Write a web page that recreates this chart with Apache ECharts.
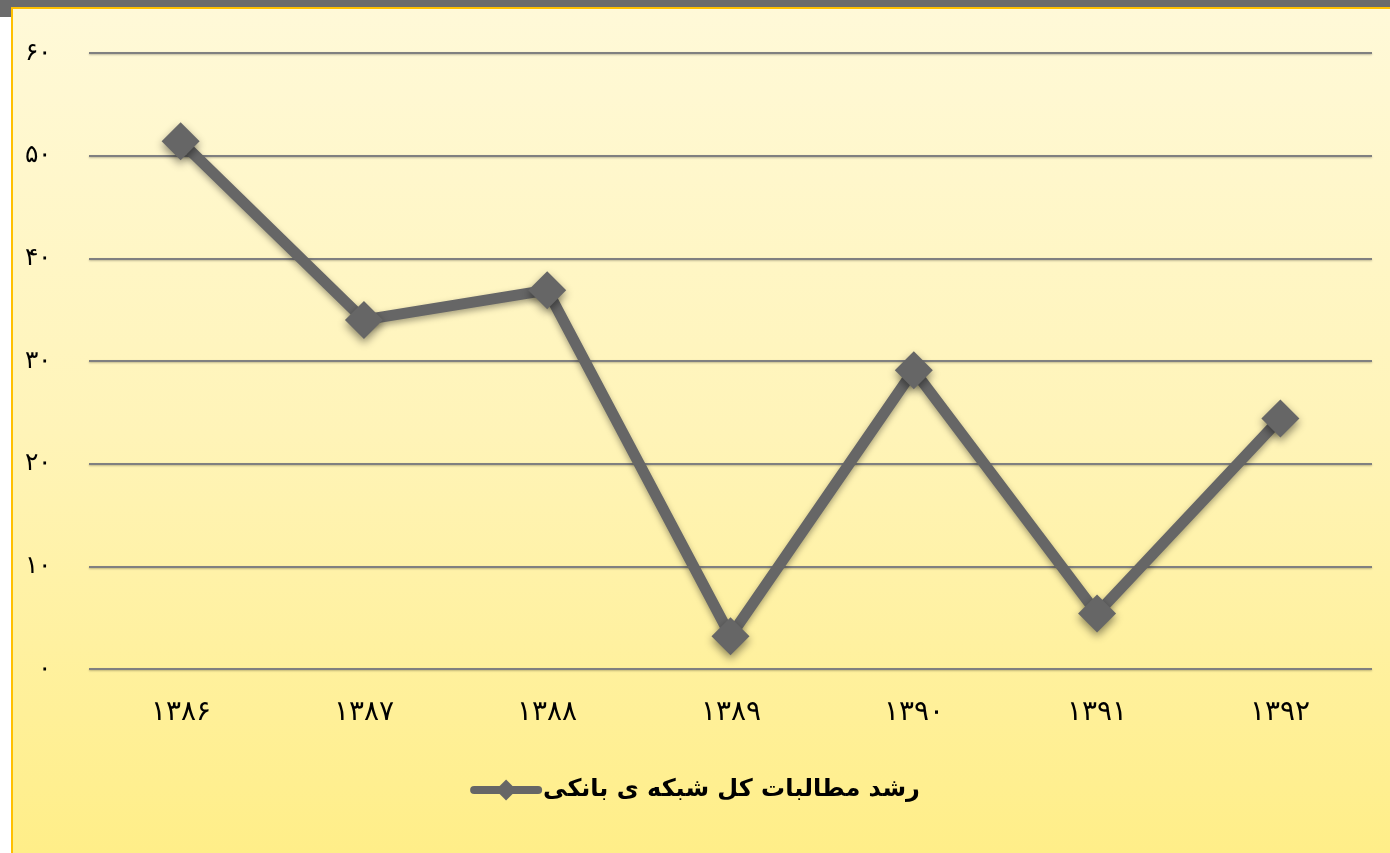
<!DOCTYPE html>
<html>
<head>
<meta charset="utf-8">
<title>رشد مطالبات</title>
<script src="https://cdn.jsdelivr.net/npm/echarts@6/dist/echarts.min.js"></script>
<style>
    html, body { margin: 0; padding: 0; width: 1390px; height: 853px; overflow: hidden; background: #fff; }
    #topbar { position: absolute; left: 0; top: 0; width: 1390px; height: 7px; background: #6b6b6b; }
    #corner { position: absolute; left: 0; top: 0; width: 11px; height: 17px; background: #6b6b6b; }
    #frame {
        position: absolute; left: 11px; top: 7px; width: 1379px; height: 846px;
        border-top: 2px solid #ffc000; border-left: 2px solid #ffc000;
        background: linear-gradient(to bottom, #fff9d8 0%, #fff4b8 50%, #ffee88 100%);
    }
    #main { position: absolute; left: 0; top: 0; width: 1390px; height: 853px; }
</style>
</head>
<body>
<div id="topbar"></div>
<div id="corner"></div>
<div id="frame"></div>
<div id="main"></div>
<script>
// داده ها
var years = ['۱۳۸۶', '۱۳۸۷', '۱۳۸۸', '۱۳۸۹', '۱۳۹۰', '۱۳۹۱', '۱۳۹۲'];
var growth = [51.4, 34.0, 36.9, 3.2, 29.1, 5.4, 24.4];
var seriesName = 'رشد مطالبات کل شبکه ی بانکی';

function fa(n) {
    return String(n).replace(/\d/g, function (d) { return '۰۱۲۳۴۵۶۷۸۹'[d]; });
}

var chart = echarts.init(document.getElementById('main'));
chart.setOption({
    backgroundColor: 'transparent',
    animation: false,
    grid: { left: 89, right: 18, top: 53, bottom: 184, containLabel: false },
    legend: {
        bottom: 46,
        left: 'center',
        itemWidth: 64,
        itemHeight: 26,
        itemGap: 4,
        lineStyle: { width: 8, cap: 'round' },
        textStyle: { fontSize: 24, fontWeight: 'bold', color: '#000', fontFamily: 'DejaVu Sans, sans-serif' },
        data: [seriesName]
    },
    xAxis: {
        type: 'category',
        data: years,
        boundaryGap: true,
        axisLine: { show: false },
        axisTick: { show: false },
        axisLabel: { margin: 30, fontSize: 28, color: '#000', fontFamily: 'DejaVu Serif, serif' }
    },
    yAxis: {
        type: 'value',
        min: 0,
        max: 60,
        interval: 10,
        axisLine: { show: false },
        axisTick: { show: false },
        axisLabel: { margin: 38, fontSize: 25, color: '#000', fontFamily: 'DejaVu Serif, serif', formatter: fa },
        splitLine: { lineStyle: { color: '#808080', width: 2, shadowColor: 'rgba(0,0,0,0.25)', shadowBlur: 2, shadowOffsetY: 1 } }
    },
    series: [{
        name: seriesName,
        type: 'line',
        data: growth,
        symbol: 'diamond',
        symbolSize: 38,
        lineStyle: { color: '#666666', width: 11, shadowColor: 'rgba(0,0,0,0.35)', shadowBlur: 6, shadowOffsetY: 3 },
        itemStyle: { color: '#666666', shadowColor: 'rgba(0,0,0,0.45)', shadowBlur: 8, shadowOffsetY: 4 }
    }]
});
</script>
</body>
</html>
